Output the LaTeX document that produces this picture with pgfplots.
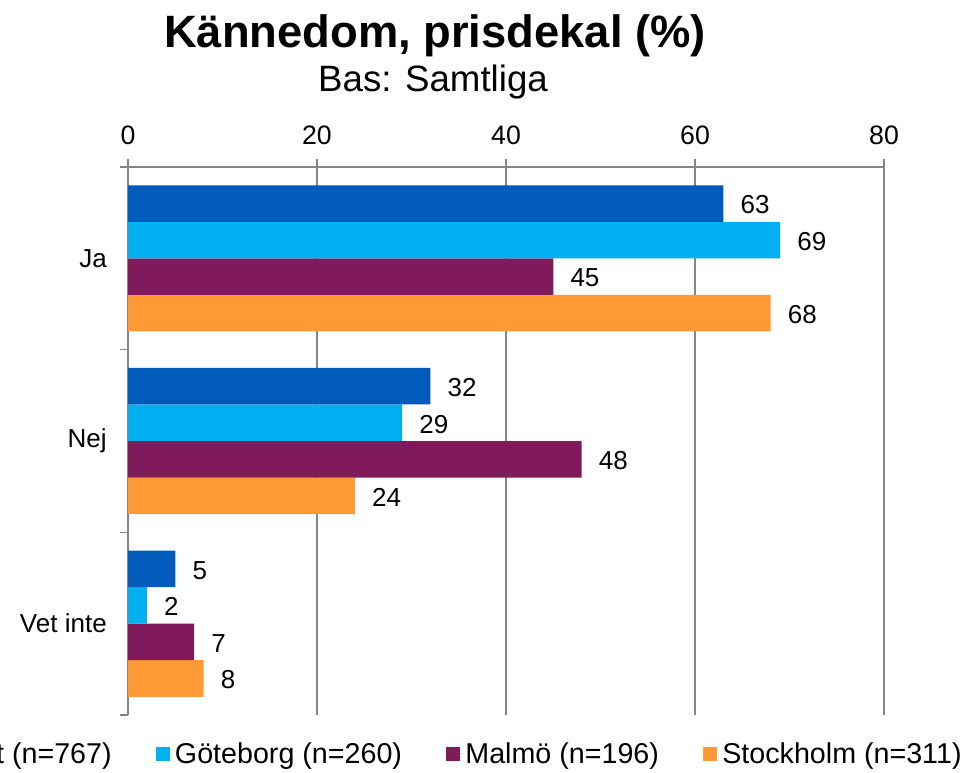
\documentclass[border=0pt]{standalone}
\usepackage{fontspec}
\setmainfont{Liberation Sans}
\usepackage{pgfplots}
\pgfplotsset{compat=1.18}

\definecolor{cTot}{RGB}{0,91,187}
\definecolor{cGbg}{RGB}{0,176,240}
\definecolor{cMal}{RGB}{128,26,90}
\definecolor{cSto}{RGB}{255,153,51}
\definecolor{axgray}{RGB}{134,134,134}

% y: 2 = Ja, 1 = Nej, 0 = Vet inte
\pgfplotstableread{
y  tot gbg mal sto
2  63  69  45  68
1  32  29  48  24
0  5   2   7   8
}\kdata

\begin{document}
\begin{tikzpicture}
\begin{axis}[
    xbar=0pt,
    bar width=27.4pt,
    scale only axis,
    width=567pt, height=411pt,
    xmin=0, xmax=80, ymin=-0.5, ymax=2.5,
    enlargelimits=false,
    axis x line*=top,
    axis y line*=left,
    axis line style={axgray, line width=0.9pt},
    xtick={0,20,...,80},
    ytick={0,1,2},
    yticklabels={Vet inte,Nej,Ja},
    minor ytick={-0.5,0.5,1.5,2.5},
    tick align=outside,
    major tick length=6pt,
    minor tick length=6pt,
    major x tick style={axgray, line width=0.9pt},
    major y tick style={draw=none},
    minor y tick style={axgray, line width=0.9pt},
    xmajorgrids,
    major grid style={axgray, line width=0.9pt},
    /pgf/number format/assume math mode=true,
    xticklabel style={font=\fontsize{20}{24}\selectfont, yshift=7pt},
    yticklabel style={font=\fontsize{19.5}{23}\selectfont, inner sep=0pt, xshift=-9.75pt},
    nodes near coords,
    nodes near coords style={font=\fontsize{19.5}{23}\selectfont, anchor=west, inner sep=0pt, xshift=12.75pt, yshift=-1pt, text=black},
    reverse legend,
    legend columns=-1,
    legend image code/.code={\path[#1] (0pt,-5.25pt) rectangle (10.5pt,5.25pt); \path (10.5pt,0) -- (14.5pt,0);},
    legend style={at={(1.103,-0.071)}, anchor=east, draw=none, fill=none, inner sep=0pt,
        font=\fontsize{21.5}{25}\selectfont,
        nodes={inner sep=0pt, anchor=west},
        /tikz/every even column/.append style={column sep=33pt}},
]
\addplot[fill=cSto, draw=none] table[x=sto, y=y] {\kdata};
\addplot[fill=cMal, draw=none] table[x=mal, y=y] {\kdata};
\addplot[fill=cGbg, draw=none] table[x=gbg, y=y] {\kdata};
\addplot[fill=cTot, draw=none] table[x=tot, y=y] {\kdata};
\legend{Stockholm (n=311), Malmö (n=196), Göteborg (n=260), Totalt (n=767)}
\end{axis}
\node[anchor=base, font=\bfseries\fontsize{34}{40}\selectfont]
    at ([shift={(230.25pt,89.25pt)}]current axis.north west) {Kännedom, prisdekal (\%)};
\node[anchor=base, font=\fontsize{27.5}{32}\selectfont]
    at ([shift={(228.75pt,57pt)}]current axis.north west) {Bas: Samtliga};
\pgfresetboundingbox
\path[use as bounding box] ([shift={(-96pt,-42.75pt)}]current axis.south west)
    rectangle ([shift={(64.5pt,125.25pt)}]current axis.north east);
\end{tikzpicture}
\end{document}
